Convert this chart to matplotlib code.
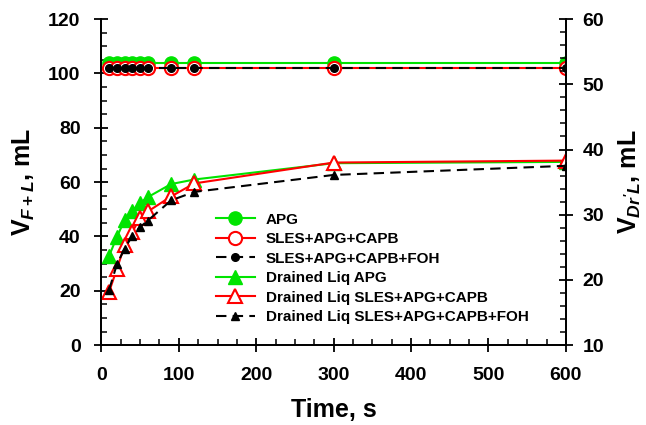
import numpy as np
import matplotlib
matplotlib.use("Agg")
import matplotlib.pyplot as plt
from matplotlib.ticker import MultipleLocator

plt.rcParams["font.family"] = ["Liberation Sans", "DejaVu Sans"]
plt.rcParams["font.weight"] = "bold"
plt.rcParams["mathtext.fontset"] = "custom"
plt.rcParams["mathtext.rm"] = "Liberation Sans:bold"
plt.rcParams["mathtext.it"] = "Liberation Sans:bold:italic"
plt.rcParams["mathtext.bf"] = "Liberation Sans:bold"

# Time points, s
time = [10, 20, 30, 40, 50, 60, 90, 120, 300, 600]

# Foam + liquid volume, mL (left axis)
v_apg = [104, 104, 104, 104, 104, 104, 104, 104, 104, 104]
v_sles = [102, 102, 102, 102, 102, 102, 102, 102, 102, 102]
v_sles_foh = [102, 102, 102, 102, 102, 102, 102, 102, 102, 102]

# Drained liquid volume, mL (right axis)
dr_apg = [23.7, 26.6, 29.2, 30.6, 31.8, 32.7, 34.7, 35.4, 37.9, 38.1]
dr_sles = [18.2, 21.7, 25.3, 27.4, 29.5, 30.5, 32.8, 34.8, 38.0, 38.3]
dr_sles_foh = [18.5, 22.4, 24.8, 26.8, 28.1, 29.1, 32.2, 33.5, 36.1, 37.5]

labels = ["APG", "SLES+APG+CAPB", "SLES+APG+CAPB+FOH",
          "Drained Liq APG", "Drained Liq SLES+APG+CAPB",
          "Drained Liq SLES+APG+CAPB+FOH"]

green = "#00e400"
red = "#ff0000"

fig = plt.figure(figsize=(6.46, 4.25), dpi=100)
ax = fig.add_axes([0.157, 0.188, 0.719, 0.767])
ax2 = ax.twinx()

h1, = ax.plot(time, v_apg, color=green, lw=1.5, marker="o", ms=9.5,
              mfc=green, mec=green, label=labels[0])
h2, = ax.plot(time, v_sles, color=red, lw=1.5, marker="o", ms=9.5,
              mfc="white", mec=red, mew=1.5, label=labels[1])
h3, = ax.plot(time, v_sles_foh, color="black", lw=1.5, ls=(0, (5, 3)),
              marker="o", ms=5.5, mfc="black", mec="black", label=labels[2])

h4, = ax2.plot(time, dr_apg, color=green, lw=1.5, marker="^", ms=10,
               mfc=green, mec=green, label=labels[3])
h5, = ax2.plot(time, dr_sles, color=red, lw=1.5, marker="^", ms=10,
               mfc="white", mec=red, mew=1.5, label=labels[4])
h6, = ax2.plot(time, dr_sles_foh, color="black", lw=1.5, ls=(0, (5, 3)),
               marker="^", ms=5.5, mfc="black", mec="black", label=labels[5])

ax.set_xlim(0, 600)
ax.set_ylim(0, 120)
ax2.set_ylim(10, 60)

ax.xaxis.set_major_locator(MultipleLocator(100))
ax.xaxis.set_minor_locator(MultipleLocator(25))
ax.yaxis.set_major_locator(MultipleLocator(20))
ax.yaxis.set_minor_locator(MultipleLocator(5))
ax2.yaxis.set_major_locator(MultipleLocator(10))
ax2.yaxis.set_minor_locator(MultipleLocator(2))

for a in (ax, ax2):
    a.spines["top"].set_visible(False)
    for s in a.spines.values():
        s.set_linewidth(1.3)
    a.tick_params(which="major", direction="inout", length=10, width=1.3,
                  labelsize=14)
    a.tick_params(which="minor", direction="in", length=4, width=1.1)
ax.tick_params(axis="y", which="both", right=False, pad=10)
ax.tick_params(axis="x", which="both", top=False, pad=11)
ax2.tick_params(axis="y", pad=7)

for lab in ax.get_xticklabels() + ax.get_yticklabels() + ax2.get_yticklabels():
    lab.set_fontweight("bold")

ax.set_xlabel("Time, s", fontsize=18, fontweight="bold", labelpad=10)
ax.set_ylabel(r"V$_{F+L}$, mL", fontsize=18, fontweight="bold", labelpad=8)
ax2.set_ylabel(r"V$_{Dr'L}$, mL", fontsize=18, fontweight="bold", labelpad=9)

leg = ax2.legend([h1, h2, h3, h4, h5, h6], labels, loc="upper left",
                 bbox_to_anchor=(0.23, 0.43), frameon=False, fontsize=11,
                 handlelength=2.55, handletextpad=0.7, labelspacing=0.36,
                 borderpad=0)
for t in leg.get_texts():
    t.set_fontweight("bold")

fig.savefig("out.png", dpi=100)
